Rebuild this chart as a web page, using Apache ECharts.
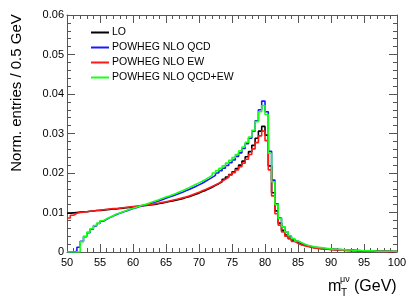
<!DOCTYPE html>
<html><head><meta charset="utf-8">
<script src="https://cdn.jsdelivr.net/npm/echarts@6/dist/echarts.min.js"></script>
<style>html,body{margin:0;padding:0;background:#fff}#c{width:418px;height:300px}</style>
</head><body><div id="c"></div>
<script>
const binLow = 50, binWidth = 0.5;
const seriesNames = ['LO', 'POWHEG NLO QCD', 'POWHEG NLO EW', 'POWHEG NLO QCD+EW'];
const seriesColors = ['#000000', '#1a1aff', '#ff1a1a', '#1aff1a'];
const xTickLabels = [50, 55, 60, 65, 70, 75, 80, 85, 90, 95, 100];
const yTickLabels = [0, 0.01, 0.02, 0.03, 0.04, 0.05, 0.06];

const lo = [
0.0098,0.0099,0.0100,0.0101,0.0102,0.0102,0.0103,0.0104,0.0105,0.0105,
0.0106,0.0107,0.0108,0.0109,0.0109,0.0110,0.0111,0.0112,0.0113,0.0114,
0.0115,0.0116,0.0117,0.0118,0.0119,0.0120,0.0121,0.0123,0.0124,0.0126,
0.0128,0.0129,0.0131,0.0133,0.0135,0.0138,0.0140,0.0143,0.0146,0.0149,
0.0153,0.0156,0.0160,0.0164,0.0169,0.0173,0.0178,0.0184,0.0190,0.0196,
0.0203,0.0211,0.0220,0.0230,0.0241,0.0254,0.0270,0.0288,0.0306,0.0318,
0.0296,0.0218,0.0150,0.0104,0.0073,0.0055,0.0043,0.0035,0.0029,0.0024,
0.0020,0.0017,0.0015,0.0013,0.0011,0.0010,0.0009,0.0008,0.0007,0.0007,
0.0006,0.0006,0.0005,0.0005,0.0004,0.0004,0.0004,0.0003,0.0003,0.0003,
0.0003,0.0002,0.0002,0.0002,0.0002,0.0002,0.0002,0.0001,0.0001,0.0001];

const nloQcd = [
0,0,0.0002,0.0012,0.0027,0.0039,0.0049,0.0058,0.0066,0.0072,
0.0078,0.0083,0.0087,0.0091,0.0095,0.0098,0.0101,0.0104,0.0107,0.0110,
0.0112,0.0115,0.0117,0.0120,0.0122,0.0125,0.0127,0.0130,0.0133,0.0136,
0.0139,0.0142,0.0145,0.0148,0.0151,0.0155,0.0158,0.0162,0.0166,0.0170,
0.0174,0.0179,0.0184,0.0189,0.0194,0.0200,0.0206,0.0212,0.0219,0.0226,
0.0233,0.0242,0.0251,0.0262,0.0274,0.0288,0.0306,0.0332,0.0360,0.0382,
0.0355,0.0255,0.0182,0.0122,0.0086,0.0064,0.0051,0.0040,0.0033,0.0027,
0.0023,0.0019,0.0016,0.0014,0.0012,0.0011,0.0010,0.0009,0.0008,0.0007,
0.0007,0.0006,0.0006,0.0005,0.0005,0.0004,0.0004,0.0004,0.0003,0.0003,
0.0003,0.0003,0.0002,0.0002,0.0002,0.0002,0.0002,0.0002,0.0001,0.0001];

const nloEw = [
0.0086,0.0093,0.0098,0.0100,0.0101,0.0102,0.0103,0.0104,0.0105,0.0106,
0.0107,0.0108,0.0109,0.0110,0.0110,0.0111,0.0112,0.0113,0.0114,0.0115,
0.0116,0.0117,0.0118,0.0119,0.0120,0.0121,0.0123,0.0124,0.0126,0.0127,
0.0129,0.0131,0.0133,0.0135,0.0137,0.0139,0.0142,0.0145,0.0148,0.0151,
0.0155,0.0158,0.0162,0.0166,0.0170,0.0174,0.0179,0.0184,0.0189,0.0195,
0.0201,0.0208,0.0216,0.0225,0.0235,0.0247,0.0261,0.0277,0.0294,0.0306,
0.0282,0.0208,0.0142,0.0097,0.0068,0.0051,0.0040,0.0033,0.0027,0.0022,
0.0018,0.0016,0.0014,0.0012,0.0010,0.0009,0.0008,0.0007,0.0007,0.0006,
0.0006,0.0005,0.0005,0.0004,0.0004,0.0004,0.0003,0.0003,0.0003,0.0003,
0.0002,0.0002,0.0002,0.0002,0.0002,0.0002,0.0001,0.0001,0.0001,0.0001];

const nloQcdEw = [
0,0,0,0,0.0026,0.0039,0.0050,0.0059,0.0067,0.0073,
0.0079,0.0084,0.0088,0.0092,0.0096,0.0099,0.0102,0.0105,0.0108,0.0111,
0.0113,0.0116,0.0119,0.0121,0.0124,0.0127,0.0130,0.0133,0.0136,0.0139,
0.0142,0.0145,0.0148,0.0152,0.0155,0.0159,0.0163,0.0167,0.0171,0.0175,
0.0179,0.0184,0.0189,0.0194,0.0200,0.0206,0.0212,0.0218,0.0225,0.0232,
0.0239,0.0247,0.0256,0.0266,0.0278,0.0291,0.0308,0.0330,0.0355,0.0371,
0.0348,0.0250,0.0178,0.0120,0.0085,0.0064,0.0051,0.0041,0.0034,0.0028,
0.0024,0.0020,0.0017,0.0015,0.0013,0.0012,0.0011,0.0010,0.0009,0.0008,
0.0007,0.0007,0.0006,0.0006,0.0005,0.0005,0.0004,0.0004,0.0004,0.0003,
0.0003,0.0003,0.0003,0.0002,0.0002,0.0002,0.0002,0.0002,0.0002,0.0001];

const allValues = [lo, nloQcd, nloEw, nloQcdEw];

function toSteps(vals) {
  const d = vals.map((v, i) => [binLow + i * binWidth, v]);
  d.push([binLow + vals.length * binWidth, vals[vals.length - 1]]);
  return d;
}

const FONT = 'Liberation Sans, Arial, Helvetica, sans-serif';
const frameColor = '#555';
const xMin = xTickLabels[0], xMax = xTickLabels[xTickLabels.length - 1];
const yMin = yTickLabels[0], yMax = yTickLabels[yTickLabels.length - 1];

function xAx(pos, labels) {
  return {
    type: 'value', position: pos, min: xMin, max: xMax, interval: 5,
    axisLine: { show: true, onZero: false, lineStyle: { color: frameColor, width: 1 } },
    axisTick: { show: true, inside: true, length: 8, lineStyle: { color: frameColor } },
    minorTick: { show: true, splitNumber: 5, length: 4, lineStyle: { color: frameColor } },
    axisLabel: { show: labels, margin: 5, color: '#000', fontSize: 11, fontFamily: FONT },
    splitLine: { show: false }
  };
}
function yAx(pos, labels) {
  return {
    type: 'value', position: pos, min: yMin, max: yMax, interval: 0.01,
    axisLine: { show: true, onZero: false, lineStyle: { color: frameColor, width: 1 } },
    axisTick: { show: true, inside: true, length: 8, lineStyle: { color: frameColor } },
    minorTick: { show: true, splitNumber: 5, length: 4, lineStyle: { color: frameColor } },
    axisLabel: { show: labels, margin: 3, color: '#000', fontSize: 11, fontFamily: FONT,
      formatter: v => String(+v.toFixed(2)) },
    splitLine: { show: false }
  };
}

const chart = echarts.init(document.getElementById('c'), null, { renderer: 'canvas' });
chart.setOption({
  animation: false,
  backgroundColor: '#fff',
  grid: { left: 67, right: 21, top: 15, bottom: 48 },
  xAxis: [xAx('bottom', true), xAx('top', false)],
  yAxis: [yAx('left', true), yAx('right', false)],
  legend: {
    orient: 'vertical', left: 86, top: 22, itemWidth: 18, itemHeight: 2, itemGap: 4,
    icon: 'rect', textStyle: { fontSize: 10.5, fontFamily: FONT, color: '#000', padding: [0, 0, 0, -2] },
    data: seriesNames
  },
  series: allValues.map((vals, k) => ({
    name: seriesNames[k], type: 'line', step: 'end', symbol: 'none',
    xAxisIndex: 0, yAxisIndex: 0,
    data: toSteps(vals),
    itemStyle: { color: seriesColors[k] },
    lineStyle: { color: seriesColors[k], width: 1.6 }
  })),
  graphic: [
    { type: 'text', x: 17, y: 93, rotation: Math.PI / 2,
      style: { text: 'Norm. entries / 0.5 GeV', fill: '#000', font: '15px ' + FONT, align: 'center', verticalAlign: 'middle' } },
    { type: 'text', x: 328, y: 295, style: { text: 'm', fill: '#000', font: '16px ' + FONT, align: 'left', verticalAlign: 'bottom' } },
    { type: 'text', x: 340, y: 284, style: { text: 'μν', fill: '#000', font: '9px ' + FONT, align: 'left', verticalAlign: 'bottom' } },
    { type: 'text', x: 341, y: 298, style: { text: 'T', fill: '#000', font: '10px ' + FONT, align: 'left', verticalAlign: 'bottom' } },
    { type: 'text', x: 354, y: 295, style: { text: '(GeV)', fill: '#000', font: '16px ' + FONT, align: 'left', verticalAlign: 'bottom' } }
  ]
});
</script></body></html>
